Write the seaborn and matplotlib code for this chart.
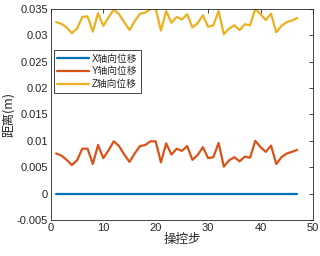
import numpy as np
import pandas as pd
import seaborn as sns
import matplotlib.pyplot as plt

# --- data ---
steps = list(range(1, 48))
x_disp = [0.0] * 47
y_disp = [0.0076, 0.0072, 0.0064, 0.0054, 0.0063, 0.0085, 0.0085, 0.0056, 0.0092, 0.0067,
          0.0082, 0.0099, 0.0090, 0.0074, 0.0060, 0.0076, 0.0090, 0.0092, 0.0099, 0.0099,
          0.0059, 0.0095, 0.0074, 0.0085, 0.0081, 0.0090, 0.0064, 0.0073, 0.0088, 0.0067,
          0.0069, 0.0096, 0.0051, 0.0063, 0.0069, 0.0061, 0.0070, 0.0068, 0.0100, 0.0088,
          0.0079, 0.0091, 0.0056, 0.0069, 0.0076, 0.0079, 0.0083]
z_disp = [0.0325, 0.0322, 0.0315, 0.0304, 0.0313, 0.0335, 0.0336, 0.0307, 0.0342, 0.0318,
          0.0334, 0.0349, 0.0340, 0.0325, 0.0310, 0.0327, 0.0341, 0.0343, 0.0350, 0.0350,
          0.0309, 0.0346, 0.0324, 0.0335, 0.0330, 0.0340, 0.0315, 0.0323, 0.0338, 0.0316,
          0.0319, 0.0346, 0.0302, 0.0313, 0.0319, 0.0310, 0.0321, 0.0319, 0.0350, 0.0340,
          0.0329, 0.0341, 0.0306, 0.0318, 0.0325, 0.0328, 0.0333]
series_names = ['X轴向位移', 'Y轴向位移', 'Z轴向位移']
colors = ['#0072BD', '#D95319', '#EDB120']

df = pd.DataFrame({'step': steps * 3,
                   'value': x_disp + y_disp + z_disp,
                   'series': [n for n in series_names for _ in steps]})

sns.set_style('white')
plt.rcParams['font.family'] = ['Liberation Sans', 'Noto Sans CJK SC', 'DejaVu Sans']

fig = plt.figure(figsize=(3.2, 2.56), dpi=100)
ax = fig.add_axes([0.159, 0.141, 0.819, 0.824])

sns.lineplot(data=df, x='step', y='value', hue='series', palette=colors,
             linewidth=1.6, ax=ax, legend=True)

ax.set_xlim(0, 50)
ax.set_ylim(-0.005, 0.035)
ax.set_xticks([0, 10, 20, 30, 40, 50])
ax.set_yticks([-0.005, 0, 0.005, 0.01, 0.015, 0.02, 0.025, 0.03, 0.035])
ax.set_yticklabels(['-0.005', '0', '0.005', '0.01', '0.015', '0.02', '0.025', '0.03', '0.035'])
ax.tick_params(direction='in', length=3, width=0.6, labelsize=8, colors='#262626',
               top=True, right=True, pad=2)
for s in ax.spines.values():
    s.set_linewidth(0.6)
    s.set_color('#262626')

ax.set_xlabel('操控步', fontsize=9, family=['Noto Sans CJK SC'], labelpad=0)
ax.set_ylabel('距离(m)', fontsize=9, family=['Noto Sans CJK SC'], labelpad=1)

leg = ax.legend(loc='upper left', bbox_to_anchor=(0.01, 0.805), fontsize=7,
                frameon=True, fancybox=False, edgecolor='#262626', framealpha=1,
                handlelength=3.3, handletextpad=0.3, borderpad=0.35, labelspacing=0.3,
                borderaxespad=0)
leg.get_frame().set_linewidth(0.6)

fig.savefig('out.png', dpi=100)
